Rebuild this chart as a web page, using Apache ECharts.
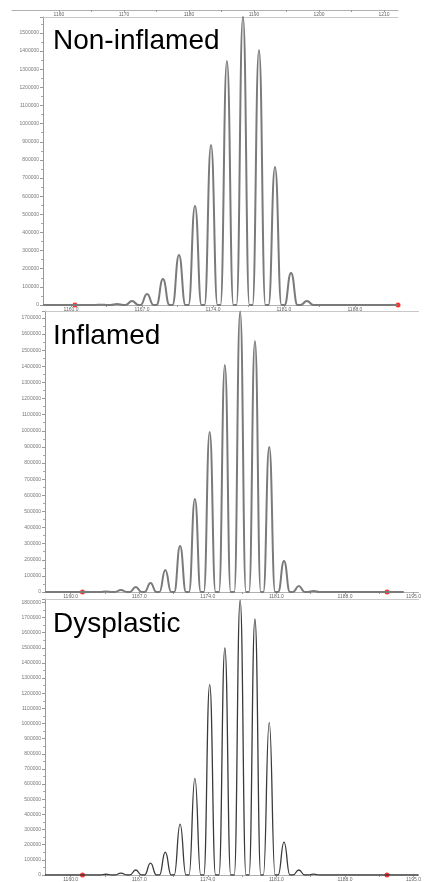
<!DOCTYPE html>
<html>
<head>
<meta charset="utf-8">
<script src="https://cdn.jsdelivr.net/npm/echarts@6/dist/echarts.min.js"></script>
<style>
html,body{margin:0;padding:0;background:#fff}
#main{width:424px;height:882px}
</style>
</head>
<body>
<div id="main"></div>
<script>
// peak centres (m/z) and apex intensities
var mzNon = [1162.96, 1164.54, 1166.02, 1167.50, 1169.07, 1170.65, 1172.23, 1173.81, 1175.38, 1176.96, 1178.54, 1180.12, 1181.70, 1183.27];
var hNon  = [2000, 6000, 22000, 61000, 143000, 276000, 546000, 882000, 1346000, 1590000, 1406000, 761000, 177000, 22000];

var mzLow = [1163.60, 1165.13, 1166.64, 1168.15, 1169.66, 1171.17, 1172.68, 1174.19, 1175.74, 1177.30, 1178.81, 1180.27, 1181.78, 1183.29, 1184.80];
var hInf  = [3000, 12000, 31000, 56000, 136000, 285000, 577000, 993000, 1408000, 1740000, 1557000, 900000, 192000, 37000, 6000];
var hDys  = [5000, 13000, 33000, 79000, 151000, 336000, 638000, 1257000, 1500000, 1815000, 1690000, 1006000, 217000, 33000, 6000];

var titles = ['Non-inflamed', 'Inflamed', 'Dysplastic'];

// axis tick labels
var topLabels = [1160, 1170, 1180, 1190, 1200, 1210];
var nonLabels = [1160, 1167, 1174, 1181, 1188];
var lowLabels = [1160, 1167, 1174, 1181, 1188, 1195];

// red markers on the baseline
var dotsNon = [1160.39, 1192.25];
var dotsLow = [1161.21, 1192.29];

function trace(mz, h, x0, x1, w){
	var d = [[x0, 0]];
	for(var i=0;i<mz.length;i++){
		d.push([mz[i]-w, 0]);
		d.push([mz[i], h[i]]);
		d.push([mz[i]+w, 0]);
	}
	d.push([x1, 0]);
	return d;
}

function withMid(list){
	var out = [];
	for(var i=0;i<list.length;i++){
		out.push(list[i]);
		if(i<list.length-1){
			out.push((list[i]+list[i+1])/2);
		}
	}
	return out;
}

function bottomAxis(grid, min, max, labels, dec){
	return {
		type: 'value', gridIndex: grid, position: 'bottom', min: min, max: max,
		splitLine: {show: false},
		axisLine: {lineStyle: {color: '#b0b0b0', width: 1}},
		axisTick: {show: true, length: 2, customValues: withMid(labels), lineStyle: {color: '#999'}},
		axisLabel: {
			customValues: labels, fontSize: 5, margin: 2, color: '#666',
			fontFamily: 'Liberation Sans',
			formatter: function(v){ return dec ? v.toFixed(1) : String(v); }
		}
	};
}

function lineAxis(grid, min, max){
	return {
		type: 'value', gridIndex: grid, position: 'top', min: min, max: max,
		splitLine: {show: false},
		axisLine: {lineStyle: {color: '#c8c8c8', width: 1}},
		axisTick: {show: false},
		axisLabel: {show: false}
	};
}

function leftAxis(grid, max){
	return {
		type: 'value', gridIndex: grid, min: 0, max: max, interval: 100000,
		splitLine: {show: false},
		axisLine: {show: true, lineStyle: {color: '#999', width: 1}},
		axisTick: {show: true, length: 3, lineStyle: {color: '#999'}},
		minorTick: {show: true, splitNumber: 2, length: 2, lineStyle: {color: '#aaa'}},
		axisLabel: {
			fontSize: 5, margin: 4, color: '#777', fontFamily: 'Liberation Sans',
			showMaxLabel: false,
			formatter: function(v){ return String(v); }
		}
	};
}

var chart = echarts.init(document.getElementById('main'));

var option = {
	animation: false,
	backgroundColor: '#fff',
	grid: [
		{left: 12, right: 26, top: 9, height: 1},
		{left: 43, right: 26, top: 17, height: 288},
		{left: 45, right: 0, top: 311, height: 281},
		{left: 45, right: 0, top: 599, height: 277}
	],
	xAxis: [
		bottomAxis(0, 1152.77, 1212.15, topLabels, false),
		bottomAxis(1, 1157.24, 1192.25, nonLabels, true),
		lineAxis(1, 1157.24, 1192.25),
		bottomAxis(2, 1157.38, 1195.51, lowLabels, true),
		lineAxis(2, 1157.38, 1195.51),
		bottomAxis(3, 1157.38, 1195.51, lowLabels, true),
		lineAxis(3, 1157.38, 1195.51)
	],
	yAxis: [
		{type: 'value', gridIndex: 0, show: false, min: 0, max: 1},
		leftAxis(1, 1588000),
		leftAxis(2, 1743000),
		leftAxis(3, 1822000)
	],
	graphic: [
		{type: 'text', left: 53, top: 27, style: {text: titles[0], font: '28px "Liberation Sans"', fill: '#000'}},
		{type: 'text', left: 53, top: 322, style: {text: titles[1], font: '28px "Liberation Sans"', fill: '#000'}},
		{type: 'text', left: 53, top: 610, style: {text: titles[2], font: '28px "Liberation Sans"', fill: '#000'}}
	],
	series: [
		{
			type: 'line', xAxisIndex: 1, yAxisIndex: 1, showSymbol: false,
			smooth: 0.5, smoothMonotone: 'x', clip: true,
			lineStyle: {color: '#7a7a7a', width: 2},
			data: trace(mzNon, hNon, 1157.24, 1192.25, 0.64)
		},
		{
			type: 'line', xAxisIndex: 3, yAxisIndex: 2, showSymbol: false,
			smooth: 0.5, smoothMonotone: 'x', clip: true,
			lineStyle: {color: '#7a7a7a', width: 2},
			data: trace(mzLow, hInf, 1157.38, 1194.0, 0.6)
		},
		{
			type: 'line', xAxisIndex: 5, yAxisIndex: 3, showSymbol: false,
			smooth: 0.5, smoothMonotone: 'x', clip: true,
			lineStyle: {color: '#3a3a3a', width: 1.3},
			data: trace(mzLow, hDys, 1157.38, 1195.51, 0.6)
		},
		{
			type: 'scatter', xAxisIndex: 1, yAxisIndex: 1, symbolSize: 5,
			itemStyle: {color: '#ff0000'},
			data: dotsNon.map(function(x){ return [x, 0]; })
		},
		{
			type: 'scatter', xAxisIndex: 3, yAxisIndex: 2, symbolSize: 5,
			itemStyle: {color: '#ff0000'},
			data: dotsLow.map(function(x){ return [x, 0]; })
		},
		{
			type: 'scatter', xAxisIndex: 5, yAxisIndex: 3, symbolSize: 5,
			itemStyle: {color: '#ff0000'},
			data: dotsLow.map(function(x){ return [x, 0]; })
		}
	]
};

chart.setOption(option);
</script>
</body>
</html>
